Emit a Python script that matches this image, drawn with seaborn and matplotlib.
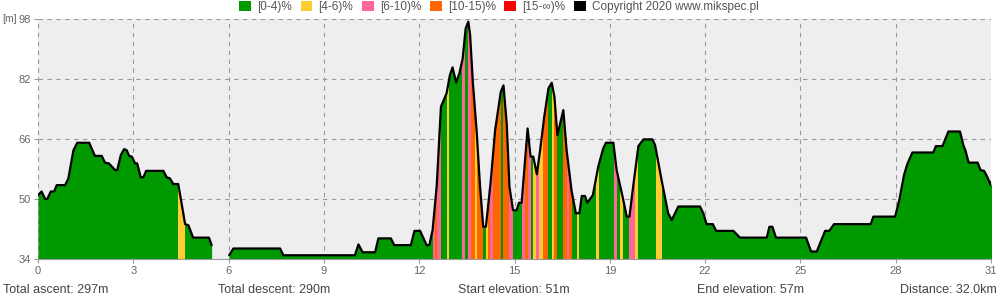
import numpy as np
import matplotlib
matplotlib.use("Agg")
import matplotlib.pyplot as plt
from matplotlib.patches import Patch
from matplotlib.path import Path
import seaborn as sns

# ---------------- data ----------------
dist_km = [0.00, 0.12, 0.24, 0.31, 0.43, 0.54, 0.63, 0.91, 1.02, 1.19, 1.32, 1.72, 1.91, 2.14, 2.25,
           2.38, 2.59, 2.66, 2.78, 2.89, 2.98, 3.06, 3.15, 3.26, 3.33, 3.45, 3.54, 3.63, 4.21, 4.32,
           4.43, 4.54, 4.71, 4.94, 5.05, 5.21, 5.74, 5.83,
           6.10,
           6.42, 6.56, 8.13, 8.24, 10.64, 10.76, 10.90, 11.32, 11.43, 11.85, 11.96, 12.52, 12.64, 12.83,
           13.05, 13.14, 13.25, 13.39, 13.53, 13.72, 13.83, 13.92, 14.04, 14.15, 14.26, 14.36, 14.45,
           14.51, 14.60, 14.73, 14.84, 14.95, 15.04, 15.20, 15.35, 15.54, 15.63, 15.74, 15.83, 15.95,
           16.07, 16.15, 16.24, 16.44, 16.54, 16.63, 16.75, 16.86, 17.00, 17.14, 17.25, 17.34, 17.44,
           17.64, 17.75, 17.92, 18.06, 18.18, 18.26, 18.37, 18.44, 18.63, 18.81, 18.98, 19.07, 19.32,
           19.43, 19.63, 19.77, 19.86, 19.99, 20.16, 20.33, 20.63, 20.72, 20.94, 21.16, 21.28, 21.50,
           22.23, 22.34, 22.45, 22.66, 22.77, 23.35, 23.57, 24.47, 24.56, 24.66, 24.78, 25.79, 25.96,
           26.15, 26.43, 26.57, 26.73, 27.96, 28.05, 28.78, 28.92, 29.08, 29.19, 29.36, 30.06, 30.15,
           30.37, 30.57, 30.96, 31.07, 31.14, 31.25, 31.55, 31.65, 31.77, 31.88, 31.99, 32.06]
elev_m = [51.0, 52.0, 50.0, 50.0, 52.0, 52.0, 53.7, 53.7, 55.5, 63.0, 65.0, 65.0, 61.5, 61.5, 59.7,
          59.5, 57.7, 57.7, 61.7, 63.3, 63.0, 61.5, 61.3, 59.5, 59.5, 55.8, 55.8, 57.5, 57.5, 55.8,
          55.5, 54.0, 54.0, 43.3, 43.0, 39.7, 39.7, 37.7,
          np.nan,
          35.0, 36.8, 36.8, 35.0, 35.0, 37.9, 35.8, 35.8, 39.5, 39.5, 37.7, 37.7, 41.5, 41.5,
          37.7, 37.7, 41.7, 53.7, 74.6, 78.2, 83.0, 85.1, 81.1, 83.5, 87.5, 95.5, 97.3,
          93.7, 81.3, 68.0, 53.7, 42.6, 42.6, 54.6, 68.4, 78.6, 80.3, 70.0, 53.3, 47.0,
          47.0, 49.0, 49.0, 68.8, 61.3, 61.3, 56.6, 63.0, 72.0, 79.5, 81.0, 77.3, 67.0,
          73.7, 63.0, 52.0, 46.2, 46.2, 50.8, 50.8, 49.0, 51.0, 58.6, 63.5, 65.0, 65.0,
          57.7, 50.6, 45.3, 45.3, 53.7, 64.1, 65.9, 65.9, 64.4, 55.0, 46.2, 44.4, 48.0,
          48.0, 46.2, 43.3, 43.3, 41.5, 41.5, 39.7, 39.7, 42.6, 42.6, 39.7, 39.7, 36.0,
          36.0, 41.5, 41.5, 43.3, 43.3, 45.3, 45.3, 49.7, 56.4, 59.3, 62.4, 62.4, 64.1,
          64.1, 68.0, 68.0, 64.4, 63.0, 59.7, 59.7, 57.7, 57.5, 55.8, 53.7, 55.8]

# grade bands (non-green parts): start km, end km, class index
band_start = [4.71, 13.25, 13.33, 13.41, 13.74, 14.25, 14.45, 14.53, 14.67, 14.75, 15.04, 15.12,
              15.18, 15.27, 15.62, 15.83, 16.24, 16.35, 16.46, 16.63, 16.72, 16.83, 16.95, 17.25,
              17.34, 17.64, 17.75, 17.84, 18.09, 18.74, 19.34, 19.54, 19.86, 20.05, 20.75]
band_end = [4.94, 13.33, 13.41, 13.53, 13.81, 14.34, 14.53, 14.67, 14.75, 14.95, 15.12, 15.18,
            15.27, 15.54, 15.83, 15.94, 16.35, 16.46, 16.54, 16.72, 16.83, 16.95, 17.13, 17.34,
            17.44, 17.75, 17.84, 17.92, 18.18, 18.85, 19.43, 19.63, 20.05, 20.16, 20.94]
band_class = [1, 2, 3, 2, 1, 2, 2, 3, 1, 3, 1, 3,
              2, 3, 3, 2, 2, 3, 2, 1, 2, 1, 3, 1,
              3, 3, 2, 3, 1, 1, 2, 1, 2, 1, 1]

class_labels = ["[0-4)%", "[4-6)%", "[6-10)%", "[10-15)%", "[15-\u221e)%"]
class_colors = ["#009900", "#FFCC33", "#FF6699", "#FF6600", "#FF0000"]
copyright_label = "Copyright 2020 www.mikspec.pl"

x_tick_labels = ["0", "3", "6", "9", "12", "15", "19", "22", "25", "28", "31"]
y_ticks = [34, 50, 66, 82, 98]
stats = ["Total ascent: 297m", "Total descent: 290m", "Start elevation: 51m",
         "End elevation: 57m", "Distance: 32.0km"]

# ---------------- plot ----------------
sns.set_theme(style="white")
plt.rcParams['font.family'] = ['Liberation Sans', 'DejaVu Sans']

fig = plt.figure(figsize=(10, 3), dpi=100)
ax = fig.add_axes([0.038, 1 - 259 / 300, 0.953, 240 / 300])
ax.set_facecolor('#EEEEEE')
ax.set_xlim(0, 32)
ax.set_ylim(34, 98)

x = np.array(dist_km)
y = np.array(elev_m)
breaks = np.where(np.isnan(y))[0]
bounds = [-1] + list(breaks) + [len(y)]
segments = []
for a, b in zip(bounds[:-1], bounds[1:]):
    if b - a > 2:
        segments.append((x[a + 1:b], y[a + 1:b]))

paths = []
for xs, ys in segments:
    poly = ax.fill_between(xs, 34, ys, color=class_colors[0], lw=0, zorder=2)
    paths.extend(poly.get_paths())
clip = Path.make_compound_path(*paths)

for s, e, c in zip(band_start, band_end, band_class):
    r = ax.axvspan(s, e, color=class_colors[c], lw=0, zorder=3)
    r.set_clip_path(clip, ax.transData)

for xs, ys in segments:
    sns.lineplot(x=xs, y=ys, color='black', lw=1.6, ax=ax, estimator=None,
                 sort=False, zorder=4)

ax.set_xticks(np.linspace(0, 32, len(x_tick_labels)))
ax.set_xticklabels(x_tick_labels)
ax.set_yticks(y_ticks)
ax.set_yticklabels([str(v) for v in y_ticks])
ax.set_xlabel("")
ax.set_ylabel("")
ax.set_axisbelow(True)
ax.grid(True, ls=(0, (4, 4)), color='#999999', lw=0.8)
for sp in ['top', 'right', 'left']:
    ax.spines[sp].set_visible(False)
ax.spines['bottom'].set_color('#999999')
ax.spines['bottom'].set_linewidth(0.8)
ax.tick_params(axis='both', which='both', length=3, width=0.8, color='#999999',
               labelsize=8, labelcolor='#666666', pad=2, bottom=True, left=True)

fig.text(0.002, 1 - 19 / 300, "[m]", fontsize=7.5, color='#666666', va='center', ha='left')

handles = [Patch(facecolor=c, edgecolor='none') for c in class_colors] + \
          [Patch(facecolor='black', edgecolor='none')]
labels = class_labels + [copyright_label]
fig.legend(handles, labels, loc='upper center', bbox_to_anchor=(0.499, 0.997), ncol=6,
           frameon=False, fontsize=8.5, handlelength=1.0, handleheight=1.0,
           columnspacing=0.75, handletextpad=0.5, borderpad=0, borderaxespad=0,
           labelcolor='#555555')

stat_x = [0.003, 0.218, 0.458, 0.697, 0.997]
for i, (sx, s) in enumerate(zip(stat_x, stats)):
    fig.text(sx, 0.033, s, fontsize=9, color='#444444', va='center',
             ha='right' if i == len(stats) - 1 else 'left')

fig.savefig("out.png", dpi=100)
